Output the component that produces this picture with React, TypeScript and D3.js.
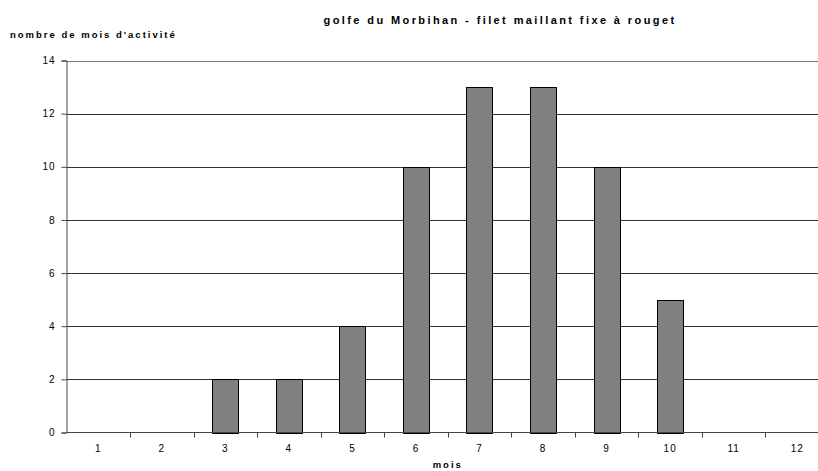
import { useEffect, useRef } from "react"
import * as d3 from "d3"

const months = ["1", "2", "3", "4", "5", "6", "7", "8", "9", "10", "11", "12"]
const activite = [0, 0, 2, 2, 4, 10, 13, 13, 10, 5, 0, 0]
const yTicks = [0, 2, 4, 6, 8, 10, 12, 14]

const title = "golfe du Morbihan - filet maillant fixe à rouget"
const yTitle = "nombre de mois d'activité"
const xTitle = "mois"

export default function App() {
    const svgRef = useRef(null)

    useEffect(() => {
        const width = 818
        const height = 471
        const left = 66.5
        const right = 829
        const top = 60.5
        const bottom = 432.5
        const font = "Arial, 'Liberation Sans', sans-serif"

        const svg = d3.select(svgRef.current)
        svg.selectAll("*").remove()
        svg.attr("width", width).attr("height", height)

        const x = d3
            .scaleBand()
            .domain(months)
            .range([left, right])
            .paddingInner(0.59)
            .paddingOuter(0.295)
        const xb = d3.scaleBand().domain(months).range([left, right]).padding(0)
        const y = d3.scaleLinear().domain([0, 14]).range([bottom, top])

        // gridlines
        svg
            .selectAll(".grid")
            .data(yTicks.filter((d) => d > 0))
            .enter()
            .append("line")
            .attr("x1", left)
            .attr("x2", right)
            .attr("y1", (d) => Math.round(y(d)) + 0.5)
            .attr("y2", (d) => Math.round(y(d)) + 0.5)
            .attr("stroke", (d) => (d === 14 ? "#777" : "#333"))
            .attr("stroke-width", 1)

        // bars
        svg
            .selectAll(".bar")
            .data(activite)
            .enter()
            .append("rect")
            .attr("x", (d, i) => Math.round(x(months[i])) + 0.5)
            .attr("y", (d) => Math.round(y(d)) + 0.5)
            .attr("width", Math.round(x.bandwidth()))
            .attr("height", (d) => Math.round(y(0)) - Math.round(y(d)))
            .attr("fill", (d) => (d > 0 ? "#808080" : "none"))
            .attr("stroke", (d) => (d > 0 ? "#000" : "none"))
            .attr("stroke-width", 1)

        // y axis
        const yAxis = svg
            .append("g")
            .attr("transform", `translate(${left},0)`)
            .call(d3.axisLeft(y).tickValues(yTicks).tickSize(5).tickPadding(6))
        yAxis.select(".domain").attr("stroke", "#444")
        yAxis.selectAll("line").attr("stroke", "#444")
        yAxis
            .selectAll("text")
            .style("font-family", font)
            .style("font-size", "10px")
            .style("letter-spacing", "1px")
            .attr("fill", "#000")

        // x axis
        const xAxis = svg.append("g").attr("transform", `translate(0,${bottom})`)
        xAxis
            .append("line")
            .attr("x1", left)
            .attr("x2", right)
            .attr("y1", 0)
            .attr("y2", 0)
            .attr("stroke", "#444")
        xAxis
            .selectAll(".tick")
            .data(months)
            .enter()
            .append("line")
            .attr("x1", (d) => Math.round(xb(d) + xb.bandwidth()) + 0.5)
            .attr("x2", (d) => Math.round(xb(d) + xb.bandwidth()) + 0.5)
            .attr("y1", 0)
            .attr("y2", 5)
            .attr("stroke", "#444")
        xAxis
            .selectAll(".lbl")
            .data(months)
            .enter()
            .append("text")
            .attr("x", (d) => xb(d) + xb.bandwidth() / 2)
            .attr("y", 19)
            .attr("text-anchor", "middle")
            .style("font-family", font)
            .style("font-size", "10px")
            .style("letter-spacing", "1px")
            .text((d) => d)

        svg
            .append("text")
            .attr("x", 500)
            .attr("y", 24)
            .attr("text-anchor", "middle")
            .style("font-family", font)
            .style("font-size", "11px")
            .style("font-weight", "bold")
            .style("letter-spacing", "2.4px")
            .text(title)

        svg
            .append("text")
            .attr("x", 10)
            .attr("y", 38)
            .style("font-family", font)
            .style("font-size", "9.5px")
            .style("font-weight", "bold")
            .style("letter-spacing", "2px")
            .text(yTitle)

        svg
            .append("text")
            .attr("x", (left + right) / 2)
            .attr("y", 468)
            .attr("text-anchor", "middle")
            .style("font-family", font)
            .style("font-size", "9.5px")
            .style("font-weight", "bold")
            .style("letter-spacing", "2px")
            .text(xTitle)
    }, [])

    return (
        <div style={{ position: "absolute", left: 0, top: 0, overflow: "hidden" }}>
            <svg ref={svgRef} style={{ display: "block" }}></svg>
        </div>
    )
}
